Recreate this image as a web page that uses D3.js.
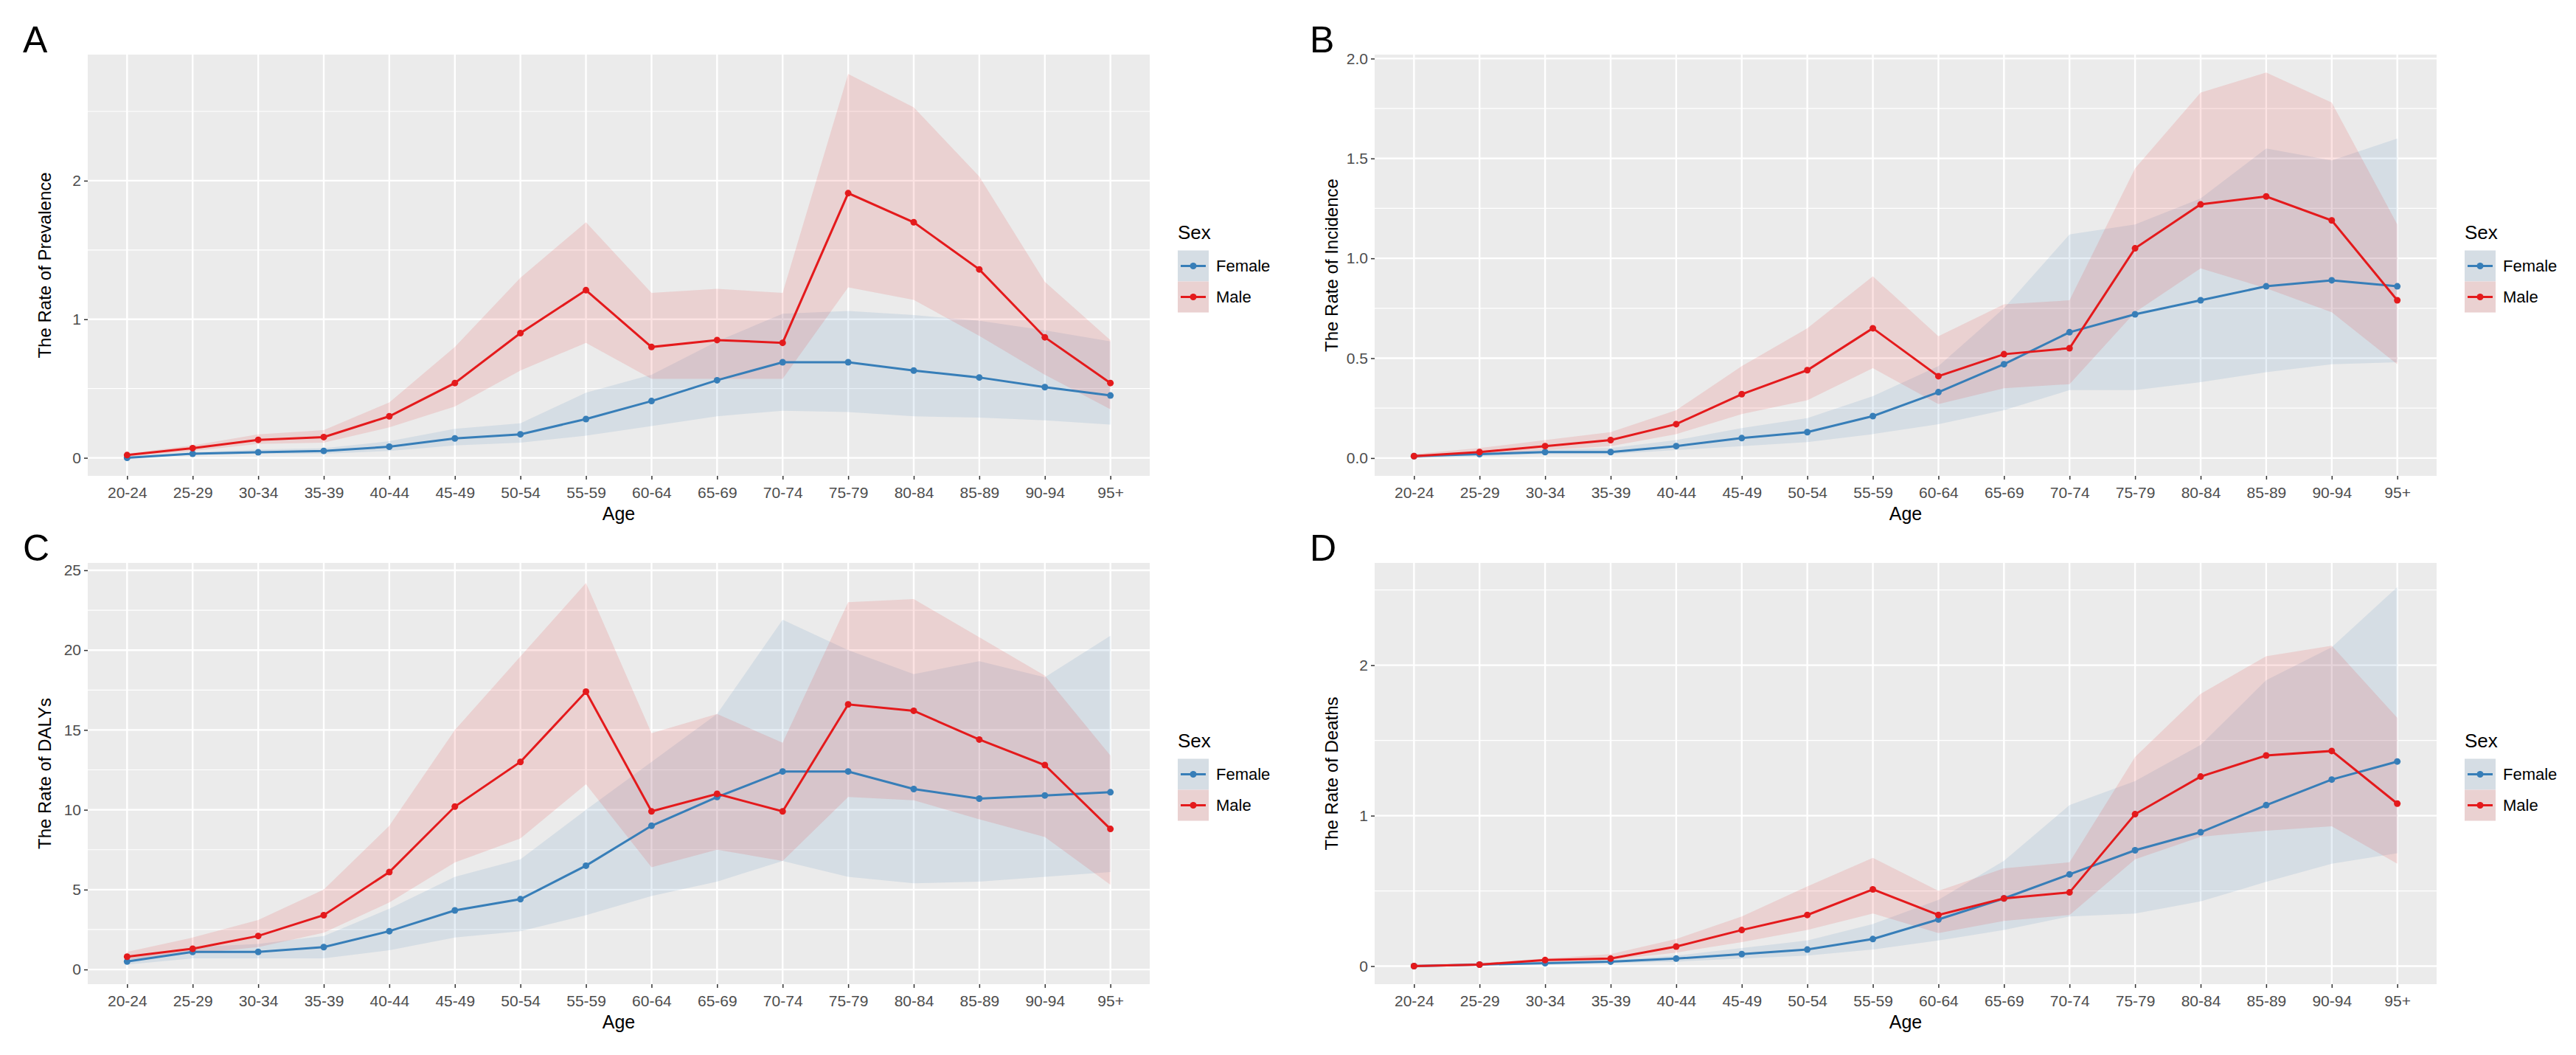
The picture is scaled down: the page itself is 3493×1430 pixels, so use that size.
<!DOCTYPE html>
<html>
<head>
<meta charset="utf-8">
<script src="https://d3js.org/d3.v7.min.js"></script>
<style>
  body { margin: 0; background: #fff; }
  svg { display: block; }
</style>
</head>
<body>
<svg id="chart" width="3493" height="1430"></svg>
<script>
// Age groups shared by all four panels
const ages = ["20-24","25-29","30-34","35-39","40-44","45-49","50-54","55-59",
  "60-64","65-69","70-74","75-79","80-84","85-89","90-94","95+"];
const sexes = ["Female", "Male"];

// A: prevalence
const prevFemale = [0.00,0.03,0.04,0.05,0.08,0.14,0.17,0.28,0.41,0.56,0.69,0.69,0.63,0.58,0.51,0.45];
const prevFemaleHi = [0.01,0.04,0.06,0.07,0.12,0.21,0.25,0.47,0.60,0.84,1.04,1.06,1.03,0.99,0.92,0.84];
const prevFemaleLo = [0.00,0.02,0.03,0.03,0.05,0.09,0.11,0.16,0.23,0.30,0.34,0.33,0.30,0.29,0.27,0.24];
const prevMale = [0.02,0.07,0.13,0.15,0.30,0.54,0.90,1.21,0.80,0.85,0.83,1.91,1.70,1.36,0.87,0.54];
const prevMaleHi = [0.03,0.09,0.17,0.20,0.40,0.80,1.30,1.70,1.19,1.22,1.19,2.77,2.53,2.03,1.27,0.85];
const prevMaleLo = [0.01,0.05,0.10,0.11,0.22,0.37,0.63,0.83,0.57,0.57,0.57,1.23,1.14,0.88,0.60,0.35];

// B: incidence
const incFemale = [0.01,0.02,0.03,0.03,0.06,0.10,0.13,0.21,0.33,0.47,0.63,0.72,0.79,0.86,0.89,0.86];
const incFemaleHi = [0.01,0.03,0.04,0.05,0.09,0.15,0.20,0.31,0.46,0.75,1.12,1.17,1.30,1.55,1.49,1.60];
const incFemaleLo = [0.00,0.01,0.02,0.02,0.04,0.06,0.08,0.12,0.17,0.24,0.34,0.34,0.38,0.43,0.47,0.48];
const incMale = [0.01,0.03,0.06,0.09,0.17,0.32,0.44,0.65,0.41,0.52,0.55,1.05,1.27,1.31,1.19,0.79];
const incMaleHi = [0.02,0.05,0.09,0.13,0.24,0.46,0.65,0.91,0.61,0.77,0.79,1.45,1.83,1.93,1.78,1.17];
const incMaleLo = [0.00,0.02,0.04,0.06,0.12,0.22,0.29,0.45,0.27,0.35,0.37,0.73,0.95,0.85,0.73,0.47];

// C: DALYs
const dalyFemale = [0.5,1.1,1.1,1.4,2.4,3.7,4.4,6.5,9.0,10.8,12.4,12.4,11.3,10.7,10.9,11.1];
const dalyFemaleHi = [0.7,1.4,1.6,2.1,3.8,5.8,6.9,10.0,13.0,16.0,21.9,20.0,18.5,19.3,18.3,20.9];
const dalyFemaleLo = [0.3,0.7,0.7,0.7,1.2,2.0,2.4,3.4,4.6,5.5,6.8,5.8,5.4,5.5,5.8,6.1];
const dalyMale = [0.8,1.3,2.1,3.4,6.1,10.2,13.0,17.4,9.9,11.0,9.9,16.6,16.2,14.4,12.8,8.8];
const dalyMaleHi = [1.1,2.0,3.1,5.0,9.0,15.0,19.6,24.2,14.8,16.0,14.2,23.0,23.2,20.8,18.4,13.4];
const dalyMaleLo = [0.6,1.0,1.4,2.3,4.2,6.7,8.2,11.6,6.4,7.5,6.8,10.8,10.6,9.4,8.3,5.3];

// D: deaths
const deathFemale = [0.00,0.01,0.02,0.03,0.05,0.08,0.11,0.18,0.31,0.45,0.61,0.77,0.89,1.07,1.24,1.36];
const deathFemaleHi = [0.01,0.02,0.03,0.04,0.07,0.12,0.17,0.28,0.44,0.70,1.07,1.23,1.47,1.90,2.12,2.52];
const deathFemaleLo = [0.00,0.01,0.01,0.02,0.03,0.05,0.07,0.11,0.17,0.24,0.33,0.35,0.43,0.56,0.68,0.75];
const deathMale = [0.00,0.01,0.04,0.05,0.13,0.24,0.34,0.51,0.34,0.45,0.49,1.01,1.26,1.40,1.43,1.08];
const deathMaleHi = [0.01,0.02,0.05,0.08,0.18,0.33,0.53,0.72,0.50,0.65,0.69,1.39,1.81,2.06,2.13,1.65];
const deathMaleLo = [0.00,0.01,0.03,0.04,0.09,0.16,0.24,0.35,0.22,0.30,0.34,0.71,0.86,0.90,0.93,0.68];

const colors = { Female: "#377EB8", Male: "#E41A1C" };

const panels = [
  { letter: "A", title: "The Rate of Prevalence", x0: 119, y0: 74, y: [-0.13, 2.91],
    major: [0, 1, 2], minor: [0.5, 1.5, 2.5], fmt: d3.format("d"),
    series: { Female: [prevFemale, prevFemaleLo, prevFemaleHi], Male: [prevMale, prevMaleLo, prevMaleHi] } },
  { letter: "B", title: "The Rate of Incidence", x0: 1864, y0: 74, y: [-0.089, 2.02],
    major: [0, 0.5, 1, 1.5, 2], minor: [0.25, 0.75, 1.25, 1.75], fmt: d3.format(".1f"),
    series: { Female: [incFemale, incFemaleLo, incFemaleHi], Male: [incMale, incMaleLo, incMaleHi] } },
  { letter: "C", title: "The Rate of DALYs", x0: 119, y0: 763, y: [-0.92, 25.46],
    major: [0, 5, 10, 15, 20, 25], minor: [2.5, 7.5, 12.5, 17.5, 22.5], fmt: d3.format("d"),
    series: { Female: [dalyFemale, dalyFemaleLo, dalyFemaleHi], Male: [dalyMale, dalyMaleLo, dalyMaleHi] } },
  { letter: "D", title: "The Rate of Deaths", x0: 1864, y0: 763, y: [-0.12, 2.68],
    major: [0, 1, 2], minor: [0.5, 1.5, 2.5], fmt: d3.format("d"),
    series: { Female: [deathFemale, deathFemaleLo, deathFemaleHi], Male: [deathMale, deathMaleLo, deathMaleHi] } }
];

const W = 1440, H = 571;
const svg = d3.select("#chart");
const narrow = "'Liberation Sans Narrow', 'Arial Narrow', 'Liberation Sans', sans-serif";

panels.forEach(p => {
  const g = svg.append("g").attr("transform", `translate(${p.x0},${p.y0})`);
  const x = d3.scaleLinear().domain([-0.6, ages.length - 0.4]).range([0, W]);
  const y = d3.scaleLinear().domain(p.y).range([H, 0]);

  // panel letter
  svg.append("text").attr("x", p.x0 - 88).attr("y", p.y0 - 3)
    .attr("font-family", "'Liberation Sans', sans-serif").attr("font-size", 50)
    .text(p.letter);

  g.append("rect").attr("width", W).attr("height", H).attr("fill", "#EBEBEB");

  p.minor.forEach(v => g.append("line").attr("x1", 0).attr("x2", W)
    .attr("y1", y(v)).attr("y2", y(v)).attr("stroke", "#fff").attr("stroke-width", 1.2));
  p.major.forEach(v => g.append("line").attr("x1", 0).attr("x2", W)
    .attr("y1", y(v)).attr("y2", y(v)).attr("stroke", "#fff").attr("stroke-width", 2.4));
  ages.forEach((a, i) => g.append("line").attr("x1", x(i)).attr("x2", x(i))
    .attr("y1", 0).attr("y2", H).attr("stroke", "#fff").attr("stroke-width", 2.4));

  const area = d3.area().x((d, i) => x(i)).y0(d => y(d[0])).y1(d => y(d[1]));
  const line = d3.line().x((d, i) => x(i)).y(d => y(d));

  sexes.forEach(s => {
    const [mid, lo, hi] = p.series[s];
    g.append("path").datum(lo.map((v, i) => [v, hi[i]])).attr("d", area)
      .attr("fill", colors[s]).attr("fill-opacity", 0.12);
  });
  sexes.forEach(s => {
    const mid = p.series[s][0];
    g.append("path").datum(mid).attr("d", line).attr("fill", "none")
      .attr("stroke", colors[s]).attr("stroke-width", 3);
    g.selectAll(null).data(mid).enter().append("circle")
      .attr("cx", (d, i) => x(i)).attr("cy", d => y(d)).attr("r", 4.5)
      .attr("fill", colors[s]);
  });

  // axes
  const yAx = g.append("g").call(d3.axisLeft(y).tickValues(p.major).tickFormat(p.fmt).tickSize(5).tickPadding(4));
  const xAx = g.append("g").attr("transform", `translate(0,${H})`)
    .call(d3.axisBottom(x).tickValues(d3.range(ages.length)).tickFormat(i => ages[i]).tickSize(5).tickPadding(6));
  [yAx, xAx].forEach(a => {
    a.select(".domain").remove();
    a.selectAll("line").attr("stroke", "#333").attr("stroke-width", 1.5);
    a.selectAll("text").attr("fill", "#4D4D4D").attr("font-family", narrow).attr("font-size", 21);
  });
  xAx.selectAll("text").attr("dy", "0.9em");

  g.append("text").attr("x", W / 2).attr("y", H + 60).attr("text-anchor", "middle")
    .attr("font-family", narrow).attr("font-size", 25).text("Age");
  g.append("text").attr("transform", `translate(-50,${H / 2}) rotate(-90)`)
    .attr("text-anchor", "middle").attr("font-family", "'Liberation Sans', sans-serif")
    .attr("font-size", 24).text(p.title);

  // legend
  const lg = g.append("g").attr("transform", `translate(${W + 38},${H / 2 - 48})`);
  lg.append("text").attr("x", 0).attr("y", 12).attr("font-family", narrow)
    .attr("font-size", 26).text("Sex");
  sexes.forEach((s, k) => {
    const ky = 28 + k * 42;
    lg.append("rect").attr("x", 0).attr("y", ky).attr("width", 42).attr("height", 42).attr("fill", "#EBEBEB");
    lg.append("rect").attr("x", 0).attr("y", ky).attr("width", 42).attr("height", 42)
      .attr("fill", colors[s]).attr("fill-opacity", 0.12);
    lg.append("line").attr("x1", 4).attr("x2", 38).attr("y1", ky + 21).attr("y2", ky + 21)
      .attr("stroke", colors[s]).attr("stroke-width", 3);
    lg.append("circle").attr("cx", 21).attr("cy", ky + 21).attr("r", 4.5).attr("fill", colors[s]);
    lg.append("text").attr("x", 52).attr("y", ky + 28).attr("font-family", narrow)
      .attr("font-size", 22).text(s);
  });
});
</script>
</body>
</html>
